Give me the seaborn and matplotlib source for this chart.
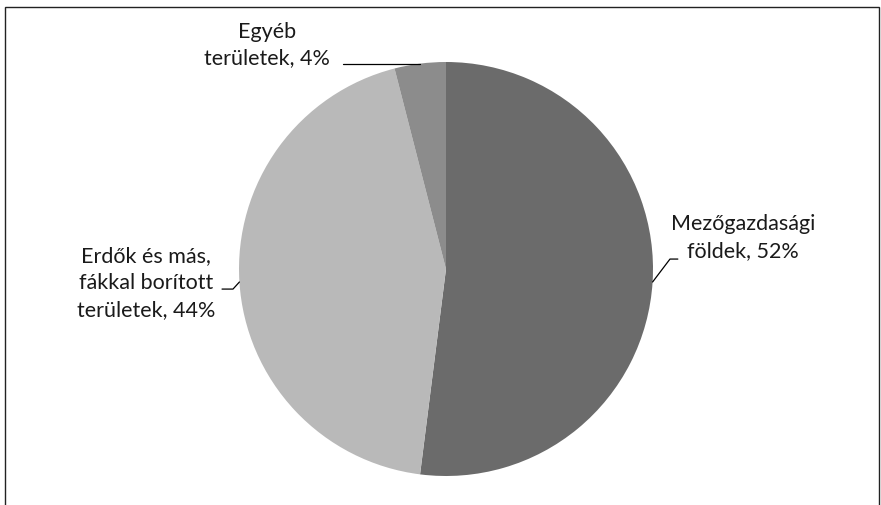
import matplotlib
matplotlib.use("Agg")
import matplotlib.pyplot as plt
import seaborn as sns
import numpy as np
from matplotlib.patches import Rectangle

categories = ["Mezőgazdasági\nföldek", "Erdők és más,\nfákkal borított\nterületek", "Egyéb\nterületek"]
values = [52, 44, 4]
colors = ["#6b6b6b", "#b9b9b9", "#8c8c8c"]

sns.set_theme(style="white")
plt.rcParams['font.family'] = ['Lato', 'DejaVu Sans']

W, H = 881, 506
fig = plt.figure(figsize=(W / 100, H / 100), dpi=100)
cx, cy, r = 446, 270, 207
ax = fig.add_axes([(cx - r) / W, (H - cy - r) / H, 2 * r / W, 2 * r / H])

wedges, _ = ax.pie(values, colors=colors, startangle=90, counterclock=False,
                   wedgeprops=dict(linewidth=0))
ax.set_xlim(-1, 1)
ax.set_ylim(-1, 1)
ax.set_aspect("equal")
ax.axis("off")

# label layout: (text x, text y, knee x, knee y, line end x)
layout = [
    (1.435, 0.157, 1.082, 0.048, 1.12),
    (-1.449, -0.063, -1.029, -0.097, -1.082),
    (-0.865, 1.087, None, None, -0.498),
]
for w, cat, v, (tx, ty, kx, ky, lx) in zip(wedges, categories, values, layout):
    mid = np.deg2rad((w.theta1 + w.theta2) / 2)
    ex, ey = np.cos(mid), np.sin(mid)
    if kx is None:
        ax.plot([lx, ex], [ey, ey], color="black", lw=0.9, clip_on=False)
    else:
        ax.plot([lx, kx, ex], [ky, ky, ey], color="black", lw=0.9, clip_on=False)
    ax.text(tx, ty, f"{cat}, {v}%", ha="center", va="center", fontsize=15.5,
            color="#1a1a1a", linespacing=1.42, clip_on=False)

fig.patches.append(Rectangle((5 / W, -0.05), 874 / W, (H - 8) / H + 0.05,
                             transform=fig.transFigure, fill=False,
                             edgecolor="#222222", lw=1.0))

fig.savefig("out.png", dpi=100)
